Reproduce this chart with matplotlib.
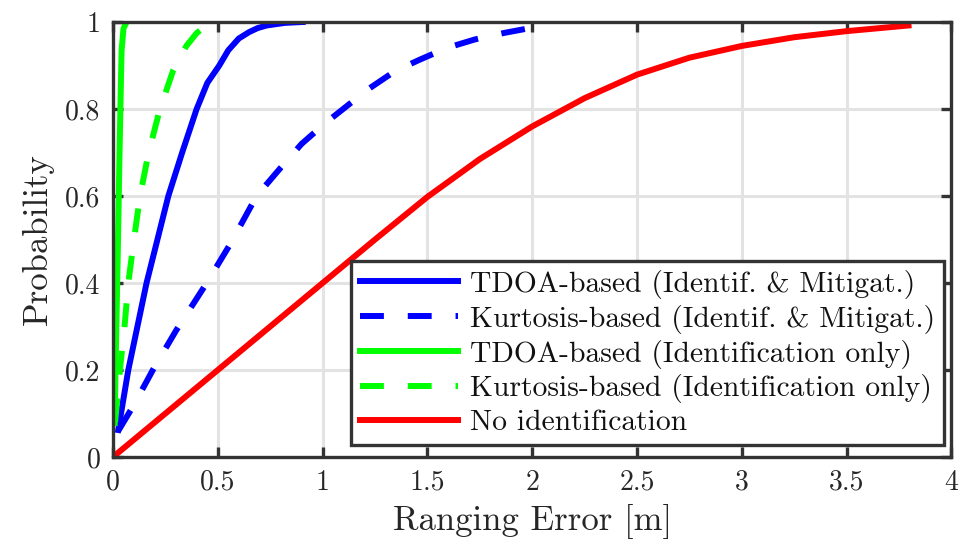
import matplotlib
matplotlib.use("Agg")
import matplotlib.pyplot as plt
from matplotlib.ticker import FuncFormatter

plt.rcParams['font.family'] = ['cmr10', 'DejaVu Serif']
plt.rcParams['axes.formatter.use_mathtext'] = True
plt.rcParams['mathtext.fontset'] = 'cm'

# Data
tdoa_im_x = [0.025, 0.073, 0.16, 0.212, 0.264, 0.33, 0.399, 0.45, 0.507, 0.55, 0.6, 0.65, 0.69, 0.733, 0.82, 0.905]
tdoa_im_y = [0.062, 0.2, 0.4, 0.5, 0.6, 0.7, 0.8, 0.86, 0.9, 0.935, 0.962, 0.977, 0.986, 0.992, 0.998, 1.0]

kurt_im_x = [0.025, 0.1, 0.19, 0.3, 0.447, 0.56, 0.685, 0.8, 0.9, 1.014, 1.124, 1.225, 1.345, 1.466, 1.596, 1.727, 1.867, 2.0]
kurt_im_y = [0.06, 0.12, 0.2, 0.29, 0.4, 0.49, 0.6, 0.665, 0.72, 0.768, 0.81, 0.848, 0.887, 0.914, 0.941, 0.96, 0.975, 0.987]

tdoa_io_x = [0.008, 0.012, 0.018, 0.024, 0.03, 0.036, 0.041, 0.05, 0.065]
tdoa_io_y = [0.078, 0.2, 0.35, 0.5, 0.667, 0.82, 0.935, 0.985, 1.0]

kurt_io_x = [0.01, 0.033, 0.055, 0.073, 0.1, 0.129, 0.17, 0.224, 0.288, 0.35, 0.4, 0.45, 0.5]
kurt_io_y = [0.08, 0.2, 0.3, 0.4, 0.5, 0.6, 0.7, 0.8, 0.89, 0.945, 0.975, 0.993, 1.0]

noid_x = [0.0, 0.25, 0.5, 0.75, 1.0, 1.25, 1.5, 1.75, 2.0, 2.25, 2.5, 2.75, 3.0, 3.25, 3.5, 3.795]
noid_y = [0.0, 0.1, 0.2, 0.3, 0.4, 0.5, 0.598, 0.685, 0.76, 0.825, 0.879, 0.918, 0.945, 0.965, 0.979, 0.992]

labels = ["TDOA-based (Identif. & Mitigat.)",
          "Kurtosis-based (Identif. & Mitigat.)",
          "TDOA-based (Identification only)",
          "Kurtosis-based (Identification only)",
          "No identification"]

x_ticks = [0, 0.5, 1, 1.5, 2, 2.5, 3, 3.5, 4]
y_ticks = [0, 0.2, 0.4, 0.6, 0.8, 1]

fig = plt.figure(figsize=(9.62, 5.53), dpi=100)
L, R, T, B = 113, 951.5, 22, 457
ax = fig.add_axes([L / 962, 1 - B / 553, (R - L) / 962, (B - T) / 553])

lw = 4.3
dash = (0, (4, 4))
ax.plot(tdoa_im_x, tdoa_im_y, color='#0000ff', lw=lw, label=labels[0])
ax.plot(kurt_im_x, kurt_im_y, color='#0000ff', lw=lw, linestyle=dash, label=labels[1])
ax.plot(tdoa_io_x, tdoa_io_y, color='#00ff00', lw=lw, label=labels[2])
ax.plot(kurt_io_x, kurt_io_y, color='#00ff00', lw=lw, linestyle=dash, label=labels[3])
ax.plot(noid_x, noid_y, color='#ff0000', lw=lw, label=labels[4])

ax.set_xlim(0, 4)
ax.set_ylim(0, 1)
ax.set_xticks(x_ticks)
ax.set_yticks(y_ticks)
fmt = FuncFormatter(lambda v, p: ('%g' % v))
ax.xaxis.set_major_formatter(fmt)
ax.yaxis.set_major_formatter(fmt)

ax.grid(True, color='#e3e3e3', lw=2.2)
ax.set_axisbelow(True)
for s in ax.spines.values():
    s.set_color('#333333')
    s.set_linewidth(2.4)
ax.tick_params(direction='in', length=7, width=2.4, color='#333333',
               top=True, right=True, labelsize=20, labelcolor='#262626', pad=9)

ax.set_xlabel("Ranging Error [m]", fontsize=25, color='#262626', labelpad=6)
ax.set_ylabel("Probability", fontsize=25, color='#262626', labelpad=8)

leg = ax.legend(loc='lower right', fontsize=21.3, handlelength=3.3, frameon=True,
                fancybox=False, framealpha=1, edgecolor='#333333',
                borderpad=0.3, labelspacing=0.2, handletextpad=0.4,
                borderaxespad=0,
                bbox_to_anchor=(0.9905, 0.0276))
leg.get_frame().set_linewidth(2.4)
for t in leg.get_texts():
    t.set_color('#111111')

fig.savefig("out.png", dpi=100)
